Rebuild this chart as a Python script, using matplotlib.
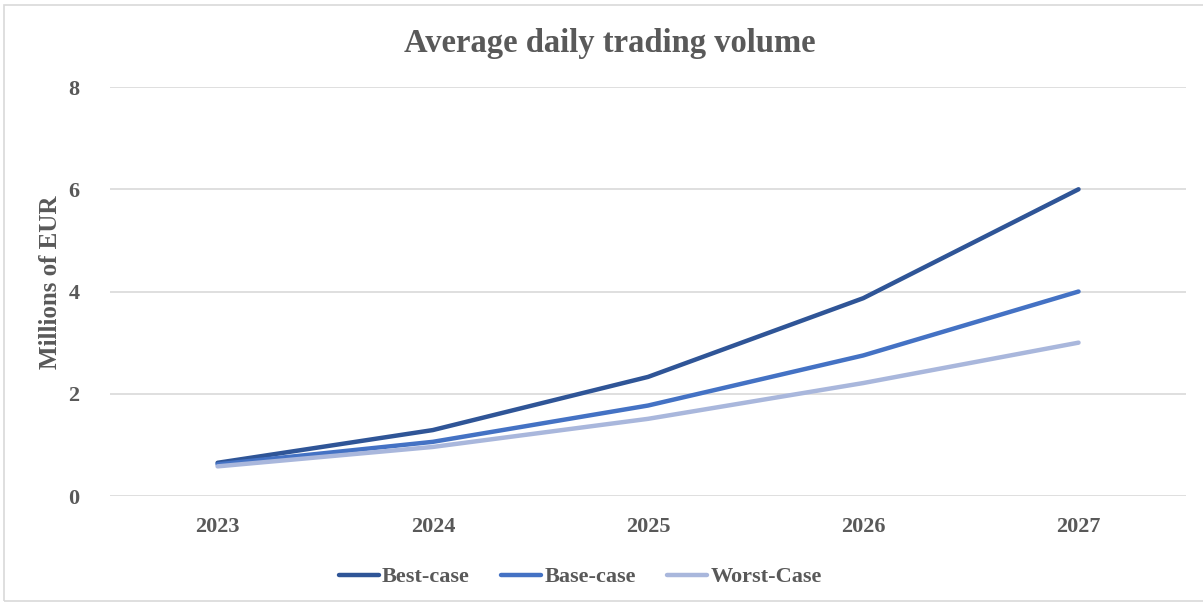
import matplotlib.pyplot as plt
from matplotlib.patches import Rectangle

years = ["2023", "2024", "2025", "2026", "2027"]
best_case = [0.65, 1.29, 2.33, 3.87, 6.0]
base_case = [0.62, 1.06, 1.77, 2.75, 4.0]
worst_case = [0.58, 0.96, 1.51, 2.21, 3.0]

plt.rcParams["font.family"] = ["Liberation Serif", "DejaVu Serif"]
plt.rcParams["font.weight"] = "bold"
txt = "#595959"

fig = plt.figure(figsize=(12.03, 6.03), dpi=100)
ax = fig.add_axes([0.0914, 0.1774, 0.8946, 0.6783])

x = range(len(years))
ax.plot(x, best_case, color="#2F5597", lw=3.2, solid_capstyle="round", label="Best-case")
ax.plot(x, base_case, color="#4472C4", lw=3.2, solid_capstyle="round", label="Base-case")
ax.plot(x, worst_case, color="#A9B7DC", lw=3.2, solid_capstyle="round", label="Worst-Case")

ax.set_xlim(-0.5, len(years) - 0.5)
ax.set_ylim(0, 8)
ax.set_yticks([0, 2, 4, 6, 8])
ax.set_xticks(list(x))
ax.set_xticklabels(years)
ax.grid(axis="y", color="#D9D9D9", lw=1.2)
ax.set_axisbelow(True)
for s in ax.spines.values():
    s.set_visible(False)
ax.tick_params(length=0, labelsize=16, colors=txt, pad=15)
ax.tick_params(axis="y", pad=22)
ax.set_ylabel("Millions of EUR", fontsize=18, color=txt, fontweight="bold")
ax.yaxis.set_label_coords(-0.045, 0.523)

fig.text(0.507, 0.928, "Average daily trading volume", ha="center", va="center",
         fontsize=23.5, color=txt, fontweight="bold")

ax.legend(loc="center", bbox_to_anchor=(0.437, -0.198), ncol=3, frameon=False,
          prop={"size": 16, "weight": "bold"}, labelcolor=txt, handlelength=1.8,
          handletextpad=0.15, columnspacing=1.4)

fig.patches.append(Rectangle((0.003, 0.004), 1.2, 0.988, transform=fig.transFigure,
                             fill=False, edgecolor="#D9D9D9", lw=1.2))

fig.savefig("out.png", dpi=100)
